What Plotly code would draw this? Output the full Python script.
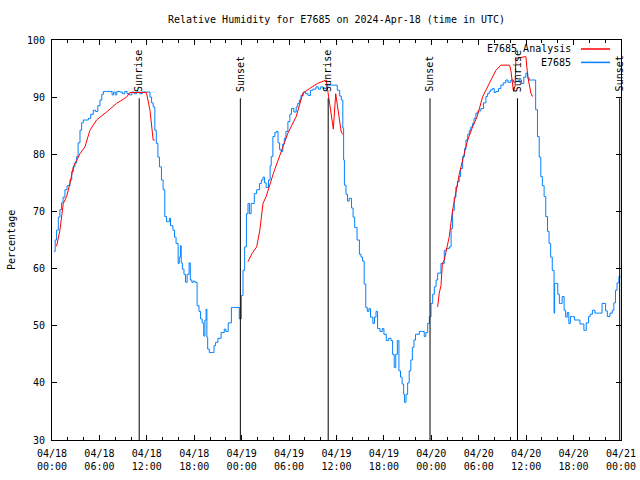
import pandas as pd
import plotly.graph_objects as go

BASE = pd.Timestamp("2024-04-18 00:00")

# Observed station series (hours since 2024-04-18 00:00 UTC, percent)
obs_hours = [0.25, 0.4, 0.58, 0.8, 1.0, 1.2, 1.4, 1.64, 1.9, 2.27, 2.5, 2.7, 2.9, 3.12, 3.3, 3.54, 3.75, 3.96,
             4.3, 4.6, 4.9, 5.22, 5.5, 5.8, 6.07, 6.3, 6.5, 6.9, 7.33, 7.6, 7.8, 8.0, 8.2, 8.59, 8.9, 9.2,
             9.5, 9.8, 10.1, 10.4, 10.7, 11.1, 11.4, 11.95, 12.4, 12.6, 12.8, 13.01, 13.2, 13.4, 13.6, 13.85,
             14.06, 14.27, 14.5, 14.7, 14.85, 15.0, 15.3, 15.5, 15.7, 15.96, 16.1, 16.25, 16.35, 16.5, 16.7,
             16.9, 17.1, 17.35, 17.5, 17.7, 17.9, 18.1, 18.36, 18.6, 18.8, 19.0, 19.2, 19.35, 19.5, 19.6, 19.7,
             19.9, 20.3, 20.5, 20.7, 21.0, 21.4, 21.8, 22.0, 22.3, 22.7, 23.0, 23.3, 23.7, 23.83, 23.96, 24.17,
             24.38, 24.6, 24.8, 24.98, 25.2, 25.6, 25.9, 26.27, 26.5, 26.7, 26.9, 27.1, 27.4, 27.6, 27.74, 27.95,
             28.2, 28.4, 28.6, 28.8, 29.0, 29.2, 29.4, 29.6, 29.85, 30.1, 30.3, 30.6, 30.9, 31.1, 31.3, 31.5,
             31.8, 32.1, 32.4, 32.7, 33.0, 33.4, 33.7, 34.0, 34.3, 34.7, 35.0, 35.4, 35.7, 36.1, 36.4, 36.6,
             36.8, 36.9, 37.0, 37.2, 37.4, 37.6, 37.9, 38.1, 38.3, 38.6, 38.9, 39.1, 39.3, 39.5, 39.7, 39.9,
             40.1, 40.3, 40.6, 40.8, 41.0, 41.2, 41.5, 41.8, 42.0, 42.3, 42.6, 42.9, 43.1, 43.3, 43.5, 43.7,
             43.9, 44.1, 44.3, 44.5, 44.6, 44.8, 45.0, 45.2, 45.4, 45.6, 45.8, 46.0, 46.48, 46.8, 47.1, 47.3,
             47.54, 47.75, 47.96, 48.17, 48.38, 48.6, 48.8, 49.22, 49.64, 49.9, 50.27, 50.5, 50.69, 50.9,
             51.11, 51.3, 51.53, 51.7, 51.96, 52.2, 52.38, 52.6, 52.8, 53.0, 53.22, 53.4, 53.64, 53.9, 54.27,
             54.6, 54.9, 55.1, 55.33, 55.5, 55.75, 55.95, 56.17, 56.5, 56.8, 57.1, 57.43, 57.7, 58.06, 58.4,
             58.7, 59.1, 59.4, 59.7, 59.96, 60.2, 60.38, 60.7, 61.0, 61.2, 61.43, 61.65, 61.85, 62.05, 62.27,
             62.48, 62.7, 62.9, 63.1, 63.3, 63.53, 63.6, 63.74, 64.0, 64.2, 64.37, 64.55, 64.8, 65.0, 65.2,
             65.4, 65.6, 65.85, 66.1, 66.48, 66.8, 67.3, 67.6, 67.9, 68.1, 68.38, 68.7, 69.0, 69.3, 69.6,
             69.85, 70.05, 70.27, 70.6, 70.9, 71.1, 71.3, 71.5, 71.74, 71.95]
obs_values = [63.0, 65.0, 66.7, 69.0, 70.3, 71.5, 72.5, 73.8, 74.5, 75.5, 77.0, 77.8, 78.5, 79.6, 82.0, 84.2, 85.5, 86.0,
              86.0, 86.3, 87.0, 87.7, 87.5, 88.5, 89.5, 90.5, 91.0, 91.0, 91.0, 90.4, 90.9, 90.4, 91.0, 90.9, 90.6, 91.0,
              90.6, 90.4, 90.9, 90.6, 90.9, 90.6, 90.9, 90.9, 90.0, 89.0, 88.3, 84.2, 81.9, 79.5, 77.8, 75.5,
              73.8, 69.1, 68.2, 68.2, 68.8, 67.5, 66.7, 65.5, 64.4, 60.9, 62.0, 64.0, 61.0, 59.9, 59.0,
              57.6, 59.0, 61.0, 58.0, 57.6, 57.8, 57.6, 53.5, 52.5, 51.2, 50.5, 48.2, 51.0, 52.9, 48.0, 45.9,
              45.3, 45.3, 46.5, 47.1, 47.8, 48.8, 49.4, 49.0, 50.5, 53.2, 53.2, 53.2, 51.2, 51.2, 55.3, 59.7,
              63.8, 69.6, 71.4, 69.6, 71.4, 73.1, 73.8, 74.9, 75.5, 76.0, 75.0, 74.2, 75.5, 78.0, 79.6, 83.1,
              83.8, 84.0, 82.0, 80.8, 80.5, 81.8, 82.8, 84.0, 85.7, 87.0, 88.0, 87.4, 88.3, 88.9, 89.5, 90.3,
              90.9, 90.6, 90.3, 91.2, 91.4, 91.8, 91.4, 91.8, 91.5, 92.1, 92.1, 92.1, 92.1, 91.2, 90.2, 89.5,
              84.6, 79.0, 74.6, 73.0, 71.8, 72.3, 70.6, 69.0, 67.2, 65.0, 62.5, 62.0, 61.3, 57.3, 53.2, 52.5,
              53.0, 51.5, 50.4, 51.5, 52.5, 49.5, 49.0, 49.5, 48.5, 47.4, 47.8, 47.4, 45.0, 42.7, 45.0, 47.4,
              42.1, 41.0, 39.8, 38.0, 36.6, 38.0, 40.0, 42.1, 44.0, 46.2, 47.5, 48.5, 49.0, 49.0, 48.1, 48.8,
              50.4, 51.6, 53.9, 55.5, 56.8, 58.0, 59.2, 60.9, 63.2, 63.5, 63.8, 67.0, 70.2, 72.5,
              74.3, 75.2, 76.1, 77.5, 79.6, 81.0, 82.5, 83.5, 84.2, 84.8, 85.4, 86.3, 87.2, 87.6, 88.0,
              89.0, 90.1, 90.6, 91.0, 91.3, 91.5, 90.8, 91.0, 91.5, 92.1, 92.5, 93.0, 92.6, 93.0, 92.6,
              92.8, 93.0, 92.4, 93.5, 94.2, 93.4, 93.0, 93.0, 93.0, 87.8, 83.1, 79.5, 76.1, 74.5, 72.6,
              69.1, 66.5, 64.4, 62.0, 59.7, 52.2, 57.4, 57.4, 55.5, 53.9, 53.9, 55.1, 52.7, 51.5, 52.3,
              50.4, 51.6, 51.6, 51.0, 51.0, 50.3, 49.2, 50.5, 51.6, 52.0, 52.7, 52.2, 52.2, 52.2, 53.9,
              53.9, 52.6, 51.6, 52.2, 52.7, 54.0, 56.2, 57.5, 58.6, 58.6]

# Analysis series (hours since 2024-04-18 00:00 UTC, percent)
ana_hours = [0.58, 0.8, 1.0, 1.43, 1.85, 2.27, 2.7, 3.54, 4.17, 4.8, 5.64, 6.9, 8.17, 9.43, 9.85, 11.95,
             12.2, 12.4, 12.8, 13.0, None,
             24.8, 25.3, 25.9, 26.3, 26.7, 27.1, 28.0, 28.8, 29.85, 30.9, 31.75, 32.6, 33.6, 34.7, 35.1,
             35.35, 35.6, 35.9, 36.2, 36.6, 36.8, None,
             48.8, 49.0, 49.22, 49.4, 49.64, 50.27, 50.69, 51.11, 51.53, 51.96, 52.6, 53.22, 53.8, 54.5,
             55.3, 56.17, 56.8, 57.9, 58.06, 58.4, 58.6, 58.7, 59.96, 60.05, 60.2, 60.6, 60.8]
ana_values = [63.9, 65.5, 66.7, 71.4, 72.6, 74.9, 77.8, 80.1, 81.3, 84.2, 86.0, 87.4, 88.9, 90.0, 90.8, 90.8,
              88.9, 87.7, 82.5, 82.5, None,
              61.2, 62.6, 63.8, 66.7, 71.4, 72.6, 76.6, 79.6, 83.7, 86.6, 90.7, 91.5, 92.4, 93.0, 89.5,
              87.4, 84.4, 90.6, 88.0, 83.9, 83.5, None,
              53.3, 55.7, 57.0, 60.9, 61.5, 65.6, 70.2, 73.7, 76.5, 79.0, 82.5, 84.8, 86.6, 90.1,
              92.4, 94.7, 95.6, 95.6, 94.7, 91.0, 92.0, 96.8, 97.1, 95.9, 93.6, 90.7, 90.1]

# Sun events (UTC)
event_times = ["2024-04-18 11:02", "2024-04-18 23:50", "2024-04-19 10:57",
               "2024-04-19 23:50", "2024-04-20 10:54", "2024-04-20 23:50"]
event_labels = ["Sunrise", "Sunset", "Sunrise", "Sunset", "Sunrise", "Sunset"]
event_line_top = 89.8

# Axis ticks
tick_times = ["2024-04-18 00:00", "2024-04-18 06:00", "2024-04-18 12:00", "2024-04-18 18:00",
              "2024-04-19 00:00", "2024-04-19 06:00", "2024-04-19 12:00", "2024-04-19 18:00",
              "2024-04-20 00:00", "2024-04-20 06:00", "2024-04-20 12:00", "2024-04-20 18:00",
              "2024-04-21 00:00"]
tick_text = ["04/18<br>00:00", "04/18<br>06:00", "04/18<br>12:00", "04/18<br>18:00",
             "04/19<br>00:00", "04/19<br>06:00", "04/19<br>12:00", "04/19<br>18:00",
             "04/20<br>00:00", "04/20<br>06:00", "04/20<br>12:00", "04/20<br>18:00",
             "04/21<br>00:00"]

series_names = ["E7685 Analysis", "E7685"]
series_colors = ["#ff0000", "#0080ff"]


def to_time(hours):
    return [None if h is None else BASE + pd.Timedelta(hours=h) for h in hours]


FONT = "DejaVu Sans Mono"
FIG_W, FIG_H = 640, 480
fig = go.Figure()

fig.add_trace(go.Scatter(x=to_time(obs_hours), y=obs_values, mode="lines",
                         line=dict(color=series_colors[1], width=1, shape="hv"),
                         showlegend=False, connectgaps=False))
fig.add_trace(go.Scatter(x=to_time(ana_hours), y=ana_values, mode="lines",
                         line=dict(color=series_colors[0], width=1),
                         showlegend=False, connectgaps=False))

for t, lab in zip(event_times, event_labels):
    fig.add_shape(type="line", xref="x", yref="y", x0=t, x1=t, y0=30, y1=event_line_top,
                  line=dict(color="black", width=1), layer="above")
    fig.add_annotation(x=t, y=event_line_top + 0.8, xref="x", yref="y", text=lab,
                       textangle=-90, showarrow=False, xanchor="center", yanchor="bottom",
                       font=dict(family=FONT, size=10, color="black"))

# Legend (gnuplot style: text right-aligned, sample line to the right)
legend_rows = [0.9775, 0.944]
for name, color, yr in zip(series_names, series_colors, legend_rows):
    fig.add_annotation(x=0.9165, y=yr, xref="paper", yref="paper", text=name, showarrow=False,
                       xanchor="right", yanchor="middle", font=dict(family=FONT, size=10, color="black"))
    fig.add_shape(type="line", xref="paper", yref="paper", x0=0.9297, x1=0.9807, y0=yr, y1=yr,
                  line=dict(color=color, width=1.5))

# Y-axis title as annotation (fixed position)
fig.add_annotation(x=-41 / 569, y=0.5, xref="paper", yref="paper", text="Percentage",
                   textangle=-90, showarrow=False, xanchor="center", yanchor="middle",
                   font=dict(family=FONT, size=10, color="black"))

fig.update_layout(
    width=FIG_W, height=FIG_H,
    margin=dict(l=52, r=19, t=40, b=40, pad=0, autoexpand=False),
    paper_bgcolor="white", plot_bgcolor="white",
    font=dict(family=FONT, size=10, color="black"),
    title=dict(text="Relative Humidity for E7685 on 2024-Apr-18 (time in UTC)",
               x=0.5, xanchor="center", xref="paper", y=1 - 19 / FIG_H, yanchor="middle",
               font=dict(family=FONT, size=10, color="black")),
    showlegend=False,
)

fig.update_xaxes(
    range=[BASE, BASE + pd.Timedelta(hours=72)],
    tickvals=tick_times, ticktext=tick_text,
    ticks="inside", ticklen=5, tickcolor="black", tickwidth=1,
    minor=dict(dtick=2 * 3600 * 1000, ticks="inside", ticklen=3, tickcolor="black", tickwidth=1),
    showline=True, linecolor="black", linewidth=1, mirror="ticks",
    showgrid=False, zeroline=False, automargin=False, ticklabelstandoff=4,
    tickfont=dict(family=FONT, size=10, color="black"),
)
fig.update_yaxes(
    range=[30, 100], dtick=10, tick0=30,
    ticks="inside", ticklen=5, tickcolor="black", tickwidth=1,
    showline=True, linecolor="black", linewidth=1, mirror="ticks",
    showgrid=False, zeroline=False, automargin=False, ticklabelstandoff=4,
    tickfont=dict(family=FONT, size=10, color="black"),
)

# Remove the default 8px page margin so the 640x480 figure fills the window exactly.
fig.write_html("out.html", config={"displayModeBar": False},
               post_script="document.body.style.margin='0';")
